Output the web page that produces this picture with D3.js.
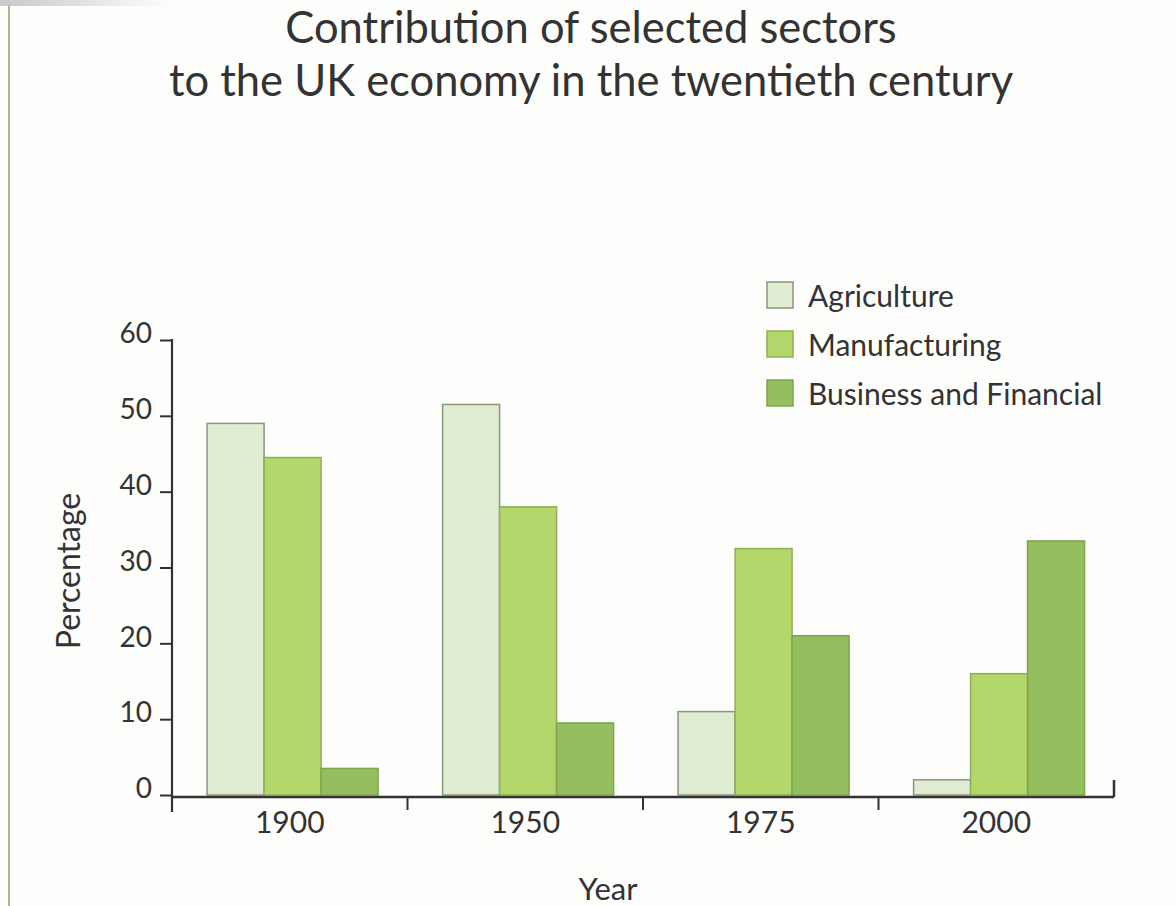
<!DOCTYPE html>
<html>
<head>
<meta charset="utf-8">
<script src="https://cdn.jsdelivr.net/npm/d3@7"></script>
<style>
  html, body { margin: 0; padding: 0; background: #fdfdfc; }
  svg { display: block; }
  text { font-family: Lato, "Open Sans", sans-serif; fill: #333; }
</style>
</head>
<body>
<svg id="chart" width="1176" height="906"></svg>
<script>
const years = ["1900", "1950", "1975", "2000"];
const seriesNames = ["Agriculture", "Manufacturing", "Business and Financial"];
const agriculture = [49, 51.5, 11, 2];
const manufacturing = [44.5, 38, 32.5, 16];
const business = [3.5, 9.5, 21, 33.5];
const yTicks = [0, 10, 20, 30, 40, 50, 60];
const titleLines = ["Contribution of selected sectors", "to the UK economy in the twentieth century"];

const seriesValues = [agriculture, manufacturing, business];
const fills = ["#e1edd3", "#b4d76c", "#95bf5e"];
const strokes = ["#87967c", "#8fae55", "#7fa350"];

const svg = d3.select("#chart");

// page decorations
const grad = svg.append("defs").append("linearGradient").attr("id", "topbar");
grad.append("stop").attr("offset", "0%").attr("stop-color", "#c8c8c8");
grad.append("stop").attr("offset", "100%").attr("stop-color", "#fdfdfc");
svg.append("rect").attr("x", 0).attr("y", 0).attr("width", 170).attr("height", 6).attr("fill", "url(#topbar)");
svg.append("line").attr("x1", 9).attr("x2", 9).attr("y1", 5).attr("y2", 906)
  .attr("stroke", "#a7b893").attr("stroke-width", 2);

// scales
const x0 = d3.scaleBand().domain(years).range([172, 1114]).padding(0);
const bw = x0.bandwidth();
const x1 = d3.scaleBand().domain(seriesNames).range([bw * 0.149, bw * 0.875]).padding(0);
const y = d3.scaleLinear().domain([0, 60]).range([795, 340]);

// title
svg.append("g").selectAll("text").data(titleLines).join("text")
  .attr("x", 591).attr("y", (d, i) => 43 + i * 53)
  .attr("text-anchor", "middle")
  .style("font-size", "43.5px")
  .text(d => d);

// bars
const groups = svg.append("g").selectAll("g").data(years).join("g")
  .attr("transform", d => `translate(${x0(d)},0)`);
groups.selectAll("rect")
  .data((d, i) => seriesNames.map((s, j) => ({ s, j, v: seriesValues[j][i] })))
  .join("rect")
  .attr("x", d => x1(d.s))
  .attr("width", x1.bandwidth())
  .attr("y", d => y(d.v))
  .attr("height", d => y(0) - y(d.v))
  .attr("fill", d => fills[d.j])
  .attr("stroke", d => strokes[d.j])
  .attr("stroke-width", 1.5);

// y axis
const yAxis = svg.append("g").attr("transform", "translate(172,0)")
  .call(d3.axisLeft(y).tickValues(yTicks).tickSize(12).tickPadding(8).tickFormat(d3.format("d")));
yAxis.select(".domain").remove();
yAxis.selectAll("line").attr("stroke", "#333").attr("stroke-width", 2);
yAxis.selectAll("text").style("font-size", "28px").attr("fill", "#333").attr("dy", "0.1em");
svg.append("line").attr("x1", 172).attr("x2", 172).attr("y1", y(60) - 1).attr("y2", 812)
  .attr("stroke", "#333").attr("stroke-width", 2.2);

// x axis
const xAxis = svg.append("g").attr("transform", "translate(0,797)")
  .call(d3.axisBottom(x0).tickSize(0).tickPadding(15));
xAxis.select(".domain").remove();
xAxis.selectAll("text").style("font-size", "30px").attr("fill", "#333");
svg.append("line").attr("x1", 171).attr("x2", x0.range()[1]).attr("y1", 797).attr("y2", 797)
  .attr("stroke", "#333").attr("stroke-width", 2.5);
svg.append("g").selectAll("line").data(years.slice(1)).join("line")
  .attr("x1", d => x0(d)).attr("x2", d => x0(d))
  .attr("y1", 797).attr("y2", 810)
  .attr("stroke", "#333").attr("stroke-width", 2);
svg.append("line").attr("x1", x0.range()[1]).attr("x2", x0.range()[1])
  .attr("y1", 797).attr("y2", 780).attr("stroke", "#333").attr("stroke-width", 2.5);

// axis titles
svg.append("text").attr("transform", "translate(80,571) rotate(-90)")
  .attr("text-anchor", "middle").style("font-size", "32px").text("Percentage");
svg.append("text").attr("x", 608).attr("y", 900)
  .attr("text-anchor", "middle").style("font-size", "31px").text("Year");

// legend
const legend = svg.append("g").selectAll("g").data(seriesNames).join("g")
  .attr("transform", (d, i) => `translate(767,${282 + i * 49})`);
legend.append("rect").attr("width", 26).attr("height", 26)
  .attr("fill", (d, i) => fills[i]).attr("stroke", (d, i) => strokes[i]).attr("stroke-width", 1.5);
legend.append("text").attr("x", 41).attr("y", 25).style("font-size", "30px").text(d => d);
</script>
</body>
</html>
